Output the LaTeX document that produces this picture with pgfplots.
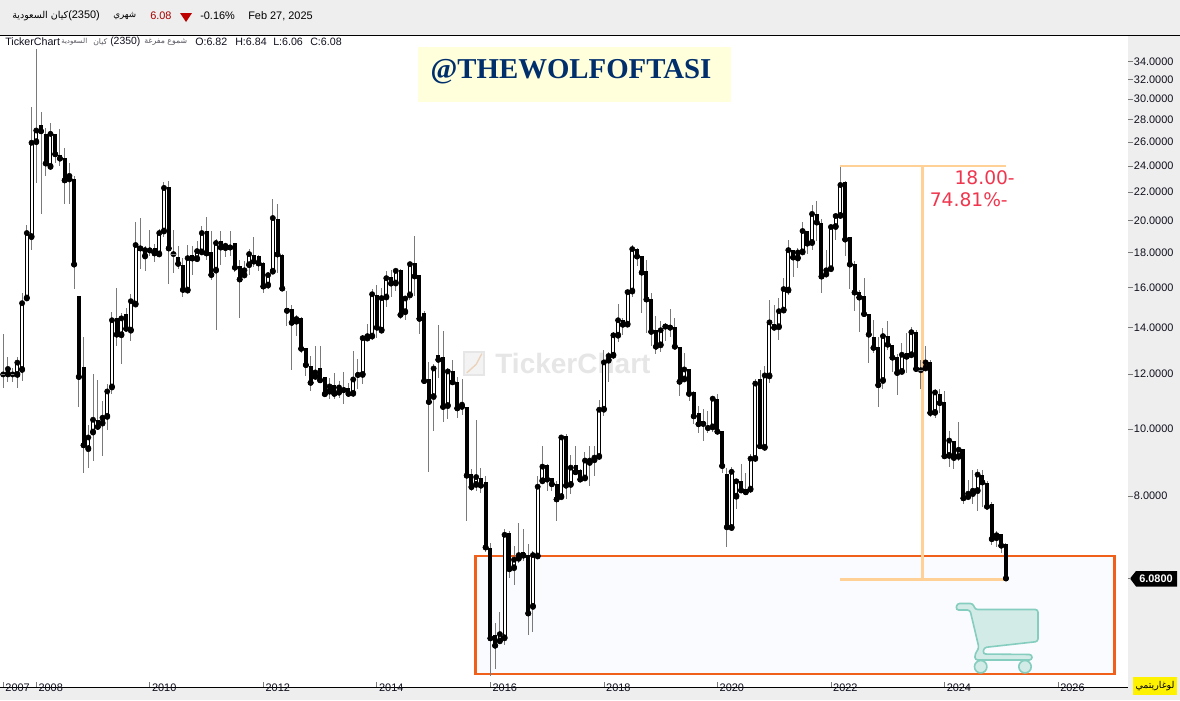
\documentclass[border=0pt]{standalone}
\usepackage{fontspec}
\usepackage{graphicx}
\usepackage{pgfplots}
\usepackage{pgfplotstable}
\pgfplotsset{compat=1.18}
\setmainfont{Liberation Sans}
\newfontfamily\arabicfont[Script=Arabic]{DejaVu Sans}
\newfontfamily\titlefont{Liberation Serif}
\newfontfamily\redfont{DejaVu Sans}
\TeXXeTstate=1

\definecolor{panel}{HTML}{EEEEEE}
\definecolor{wick}{HTML}{7A7A7A}
\definecolor{boxline}{HTML}{F0601A}
\definecolor{boxfill}{HTML}{FAFBFE}
\definecolor{fibline}{HTML}{FFD196}
\definecolor{redtxt}{HTML}{F0364E}
\definecolor{navy}{HTML}{002F6C}
\definecolor{banner}{HTML}{FFFFDC}
\definecolor{carts}{HTML}{84CDBF}
\definecolor{cartf}{HTML}{D2EBE6}
\definecolor{wmark}{HTML}{E6E6E6}
\definecolor{labeltxt}{HTML}{10101E}

% x = months after Jan 2008
\pgfplotstableread{
x o h l c
-6 11.99 12.72 11.68 12.21
-4 11.97 12.72 11.46 12.47
-3 12.17 15.72 11.72 15.20
-2 15.44 19.74 15.44 19.20
-1 18.94 29.20 18.16 25.93
0 25.98 35.39 22.70 27.01
3 23.93 27.65 23.66 26.71
7 22.95 24.20 21.17 23.22
11 9.35 10.12 8.78 9.72
12 9.88 11.99 8.99 10.31
14 10.18 10.96 9.14 10.38
15 10.41 11.63 9.96 11.33
16 11.48 14.76 11.25 14.36
18 13.66 14.70 12.42 14.45
20 13.87 15.68 13.40 15.30
21 15.13 19.94 15.13 18.45
23 17.76 18.36 16.94 18.14
26 17.88 19.45 17.88 19.20
27 19.30 22.78 18.94 22.31
32 15.85 18.45 15.85 17.66
34 17.60 18.67 17.46 18.08
35 18.00 19.63 18.00 19.20
38 16.94 18.81 13.91 18.57
40 18.26 18.57 17.70 18.40
44 16.67 17.50 16.62 16.96
45 17.25 18.20 16.70 17.90
49 16.12 16.83 15.94 16.69
50 16.88 21.52 16.88 20.18
55 14.29 14.61 13.63 14.42
59 11.89 13.18 11.76 12.07
62 11.32 11.85 11.05 11.52
64 11.28 11.72 11.09 11.48
67 11.24 12.96 11.16 11.79
69 11.97 13.67 11.61 13.53
70 13.51 14.18 13.51 13.62
71 13.60 15.93 13.45 15.66
73 13.87 15.98 13.82 15.46
74 15.49 16.93 15.03 16.52
76 16.23 16.98 15.85 16.93
78 14.75 15.44 14.38 15.44
79 15.60 17.46 15.37 17.31
84 11.12 12.41 9.94 12.23
87 10.79 12.23 10.32 12.11
90 10.76 11.80 10.49 10.84
93 8.30 10.29 8.13 8.52
98 4.93 5.44 4.90 5.05
99 4.98 7.17 4.87 7.03
101 6.29 6.78 5.94 6.47
102 6.49 7.31 6.40 6.57
105 5.53 6.67 5.09 6.57
106 6.54 8.56 6.49 8.25
107 8.40 9.44 8.37 8.82
111 7.97 9.72 7.91 9.72
113 8.30 9.16 8.04 8.79
116 8.48 9.25 8.48 9.00
117 8.93 9.44 8.28 9.00
118 9.01 9.46 8.56 9.09
119 9.11 11.00 9.01 10.66
120 10.66 13.00 10.45 12.48
121 12.55 12.93 11.70 12.75
122 12.76 13.80 12.61 13.66
123 13.64 15.17 13.37 14.36
125 14.15 15.77 14.10 15.77
126 15.80 18.47 15.51 18.20
132 13.21 14.34 12.91 13.89
137 11.79 12.86 11.70 12.19
143 10.05 11.16 9.91 11.06
147 7.19 8.81 7.17 8.67
148 7.98 8.42 7.66 8.40
151 8.17 9.21 8.07 9.06
152 9.05 11.82 9.05 11.63
154 9.39 12.33 9.39 11.95
155 11.91 15.37 11.66 14.26
157 14.03 15.46 13.45 14.80
158 14.83 16.52 14.81 15.93
159 15.85 18.77 15.63 18.14
161 17.64 18.26 17.11 18.00
162 18.00 19.94 18.00 19.33
164 18.57 21.10 18.16 20.46
167 16.72 18.16 16.72 16.96
168 17.02 19.74 17.02 19.59
169 19.59 20.41 18.77 20.32
170 20.32 24.02 20.32 22.53
179 11.73 13.99 11.43 13.62
183 12.09 13.33 12.03 12.80
185 12.78 14.03 12.78 13.80
188 12.23 13.18 12.23 12.48
190 10.55 11.42 10.37 11.29
193 9.14 9.93 8.80 9.62
195 9.11 10.22 8.99 9.33
197 7.97 8.45 7.97 8.06
198 8.05 8.71 7.80 8.14
199 8.13 8.74 7.60 8.59
203 6.95 7.13 6.76 7.02
}\upcandles

\pgfplotstableread{
x o h l c
1 27.47 28.71 20.48 26.95
2 26.74 27.28 23.19 24.20
4 26.74 26.74 24.28 24.96
5 24.93 27.19 23.98 24.60
6 24.66 25.44 21.17 22.88
8 23.01 23.19 15.96 17.29
9 15.58 15.58 10.76 11.89
10 12.29 13.57 8.63 9.47
13 10.31 11.76 10.02 10.07
17 14.45 16.00 13.19 13.69
19 14.66 14.96 13.96 13.96
22 18.32 20.21 17.04 18.24
24 18.20 19.41 17.76 18.12
25 18.26 18.54 17.46 17.94
28 22.38 22.86 16.18 18.24
30 17.72 18.40 17.02 17.33
31 17.25 17.66 15.49 15.89
33 17.84 18.40 16.67 17.64
36 19.35 20.25 17.56 17.94
37 18.02 19.30 16.43 16.70
39 18.69 19.30 17.27 18.30
41 18.38 19.30 17.80 18.30
42 18.57 18.57 16.85 17.11
43 17.19 17.56 14.48 16.45
46 17.86 18.95 17.17 17.46
47 17.80 17.86 16.93 17.35
48 17.37 17.46 15.75 16.07
51 20.14 21.17 16.83 17.88
52 17.86 17.92 15.96 15.96
53 14.96 15.85 14.09 14.82
54 14.91 15.11 12.16 14.24
56 14.47 14.53 12.88 13.06
57 13.09 13.09 11.93 12.37
58 12.33 12.75 11.34 11.66
60 12.24 13.18 11.76 11.76
61 11.87 11.87 11.23 11.23
63 11.57 12.03 11.05 11.24
65 11.46 12.07 10.86 11.38
66 11.46 11.66 11.13 11.24
68 12.04 12.61 11.42 11.97
72 15.63 16.16 13.55 14.01
75 16.58 16.98 15.49 16.23
77 16.96 17.02 14.43 14.62
80 17.39 19.03 15.58 16.62
81 16.70 16.70 13.72 14.43
82 14.71 14.82 11.61 11.73
83 11.80 12.48 8.67 10.94
85 12.79 14.13 11.85 12.59
86 12.71 13.85 10.23 10.76
88 12.12 12.58 11.68 11.68
89 11.68 11.87 10.37 10.71
91 10.75 10.75 7.37 8.56
92 8.61 8.74 8.13 8.24
94 8.48 8.77 8.08 8.28
95 8.39 8.54 6.63 6.74
96 6.73 6.85 4.39 4.98
97 5.04 5.24 4.49 4.86
100 7.08 7.13 6.08 6.27
103 6.64 7.17 6.45 6.56
104 6.57 6.82 5.03 5.41
108 8.88 8.91 8.12 8.45
109 8.48 8.48 8.12 8.32
110 8.33 8.42 7.37 7.91
112 9.78 9.82 7.91 8.28
114 8.88 9.44 8.66 8.66
115 8.71 8.76 8.45 8.45
124 14.36 14.45 13.67 14.15
127 18.22 18.26 17.21 17.76
128 17.80 17.80 14.70 16.83
129 16.93 17.56 13.78 15.39
130 15.42 15.72 13.18 13.82
131 13.90 14.57 12.84 13.15
133 14.12 14.21 13.40 14.06
134 14.12 14.91 13.60 14.01
135 14.04 14.45 13.15 13.15
136 13.12 13.12 11.16 11.70
138 12.20 12.20 10.96 11.24
139 11.31 11.34 10.16 10.43
140 10.56 10.78 9.87 10.16
141 10.26 10.68 9.61 10.17
142 10.09 10.60 9.85 10.03
144 11.06 11.25 9.91 9.91
145 9.93 9.93 8.63 8.84
146 8.62 8.79 6.74 7.21
149 8.42 8.89 8.15 8.15
150 8.18 8.63 8.07 8.10
153 11.80 12.16 9.42 9.44
156 14.18 15.11 13.90 14.01
160 18.14 18.16 16.61 17.70
163 19.33 19.33 17.92 18.54
165 20.46 21.36 18.67 19.89
166 19.85 20.12 15.75 16.61
171 22.75 22.85 17.76 18.79
172 18.94 18.94 15.94 17.29
173 17.31 17.50 14.83 15.75
174 15.77 15.89 13.82 15.49
175 15.56 16.52 14.66 14.66
176 14.65 14.65 12.47 13.69
177 13.57 14.37 12.86 13.10
178 13.12 13.60 10.76 11.57
180 13.62 14.32 13.00 13.24
181 13.21 13.21 12.08 12.68
182 12.69 12.83 11.19 12.05
184 12.87 13.75 12.03 12.72
186 13.81 13.90 12.08 12.21
189 12.50 12.58 10.39 10.55
191 11.23 11.42 10.55 10.90
192 10.93 11.34 9.10 9.13
194 9.62 9.62 8.75 9.08
196 9.34 9.34 7.80 7.94
200 8.59 8.71 7.72 8.37
201 8.34 8.42 7.72 7.72
202 7.78 7.85 6.79 6.93
204 7.06 7.06 6.61 6.78
205 6.82 6.84 6.06 6.08
}\downcandles

\pgfplotstableread{
x o h l c
-7 11.99 13.72 11.46 11.99
-5 11.99 12.24 11.68 11.99
29 17.90 19.41 16.83 17.90
187 12.16 12.58 11.43 12.16
}\dojis

\begin{document}
\begin{tikzpicture}[x=0.75pt,y=-0.75pt]
\useasboundingbox (0,0) rectangle (1180,700);
% window panels
\fill[white] (0,0) rectangle (1180,700);
\fill[panel] (0,0) rectangle (1180,35);
\fill[panel] (1128,35) rectangle (1180,700);
\fill[panel] (0,687) rectangle (1180,700);
\draw[black,line width=0.9pt] (0,35.5) -- (1180,35.5);

\begin{axis}[
  at={(0pt,-27pt)}, anchor=north west,
  scale only axis,
  width=846pt, height=488.6pt,
  ymode=log,
  xmin=-7.67, xmax=230.8,
  ymin=4.228, ymax=37.0,
  axis x line*=bottom, axis y line*=right,
  x axis line style={black,-,line width=0.9pt},
  y axis line style={draw=none},
  xtick={-7,0,24,48,72,96,120,144,168,192,216},
  xticklabels={2007,2008,2010,2012,2014,2016,2018,2020,2022,2024,2026},
  ytick={8,10,12,14,16,18,20,22,24,26,28,30,32,34},
  yticklabels={8.0000,10.0000,12.0000,14.0000,16.0000,18.0000,20.0000,22.0000,24.0000,26.0000,28.0000,30.0000,32.0000,34.0000},
  minor tick num=0, log basis y=10,
  ymajorgrids=false, xmajorgrids=false,
  yminorticks=false,
  xtick align=inside, ytick align=outside,
  major tick length=3.75pt,
  tick style={wick,line width=0.6pt},
  xticklabel style={font=\fontsize{8.2}{9}\selectfont,text=labeltxt,anchor=north west,inner sep=0pt,xshift=1.5pt,yshift=3pt},
  yticklabel style={font=\fontsize{8.2}{9}\selectfont,text=labeltxt,anchor=west,inner sep=0pt,xshift=0.5pt},
]
% buying zone
\draw[boxline,line width=2pt,fill=boxfill] (axis cs:92.9,6.55) rectangle (axis cs:228,4.42);
% watermark
\fill[wmark!50] (axis cs:90.5,12.9) rectangle (axis cs:94.6,11.95);
\draw[wmark,line width=1.5pt] (axis cs:90.5,12.9) rectangle (axis cs:94.6,11.95);
\draw[wmark!80!orange,line width=1pt] (axis cs:91,12.05) -- (axis cs:93,12.4) -- (axis cs:94.2,12.85);
\node[anchor=west,inner sep=0pt,text=wmark,font=\fontsize{21}{22}\selectfont\bfseries] at (axis cs:97,12.45) {TickerChart};

% wicks
\addplot[only marks,mark=none,forget plot,error bars/.cd,y dir=both,y explicit,error mark=none,
  error bar style={wick,line width=0.75pt}]
  table[x=x,y=c,y error plus expr=\thisrow{h}-\thisrow{c},y error minus expr=\thisrow{c}-\thisrow{l}] {\upcandles};
\addplot[only marks,mark=none,forget plot,error bars/.cd,y dir=both,y explicit,error mark=none,
  error bar style={wick,line width=0.75pt}]
  table[x=x,y=c,y error plus expr=\thisrow{h}-\thisrow{c},y error minus expr=\thisrow{c}-\thisrow{l}] {\downcandles};
\addplot[only marks,mark=none,forget plot,error bars/.cd,y dir=both,y explicit,error mark=none,
  error bar style={wick,line width=0.75pt}]
  table[x=x,y=c,y error plus expr=\thisrow{h}-\thisrow{c},y error minus expr=\thisrow{c}-\thisrow{l}] {\dojis};
\addplot[only marks,mark=-,mark size=2pt,mark options={wick,line width=0.75pt},forget plot]
  table[x=x,y=c] {\dojis};
% falling bodies
\addplot[only marks,mark=none,forget plot,error bars/.cd,y dir=plus,y explicit,error mark=none,
  error bar style={black,line width=3pt}]
  table[x=x,y=c,y error plus expr=\thisrow{o}-\thisrow{c}] {\downcandles};
% rising bodies, black then white inside
\addplot[only marks,mark=none,forget plot,error bars/.cd,y dir=plus,y explicit,error mark=none,
  error bar style={black,line width=3pt}]
  table[x=x,y=o,y error plus expr=\thisrow{c}-\thisrow{o}] {\upcandles};
\addplot[only marks,mark=none,forget plot,error bars/.cd,y dir=plus,y explicit,error mark=none,
  error bar style={white,line width=1.5pt}]
  table[x=x,y expr=\thisrow{o}*1.0033,y error plus expr=\thisrow{c}*0.9967-\thisrow{o}*1.0033] {\upcandles};

% range tool
\draw[fibline,line width=1.8pt] (axis cs:169.9,24.02) -- (axis cs:205,24.02);
\draw[fibline,line width=1.8pt] (axis cs:169.9,6.06) -- (axis cs:205,6.06);
\draw[fibline,line width=2pt] (axis cs:187.4,24.02) -- (axis cs:187.4,6.06);
\end{axis}

% last price tag
\fill[black] (1130,578.5) -- (1136,571) -- (1177,571) -- (1177,586.5) -- (1136,586.5) -- cycle;
\draw[wick,line width=0.6pt] (1128,578.5) -- (1131,578.5);
\node[text=white,inner sep=0pt,font=\fontsize{8.2}{9}\selectfont\bfseries] at (1156,578.5) {6.0800};
% log button
\fill[yellow] (1133,677) rectangle (1177,695);
\node[inner sep=0pt] at (1155,686) {\resizebox{29.25pt}{!}{\arabicfont\beginR لوغاريتمي\endR}};

% header strip
\node[anchor=west,inner sep=0pt] at (12,16) {\resizebox{42pt}{!}{\arabicfont\beginR كيان السعودية\endR}};
\node[anchor=west,inner sep=0pt,font=\fontsize{8.2}{9}\selectfont] at (68,16) {(2350)};
\node[anchor=west,inner sep=0pt] at (113,16) {\resizebox{17.25pt}{!}{\arabicfont\beginR شهري\endR}};
\node[anchor=west,inner sep=0pt,text=red!65!black,font=\fontsize{8.2}{9}\selectfont] at (150,16) {6.08};
\fill[red!75!black] (180,13) -- (192,13) -- (186,22) -- cycle;
\node[anchor=west,inner sep=0pt,font=\fontsize{8.2}{9}\selectfont] at (200,16) {-0.16\%};
\node[anchor=west,inner sep=0pt,font=\fontsize{8.2}{9}\selectfont] at (248,16) {Feb 27, 2025};

% info line
\node[anchor=west,inner sep=0pt,text=labeltxt,font=\fontsize{8}{9}\selectfont] at (5,42) {TickerChart};
\node[anchor=west,inner sep=0pt] at (61,42) {\resizebox{19.5pt}{!}{\arabicfont\color{labeltxt!70}\beginR السعودية\endR}};
\node[anchor=west,inner sep=0pt] at (93,42) {\resizebox{10.5pt}{!}{\arabicfont\color{labeltxt!70}\beginR كيان\endR}};
\node[anchor=west,inner sep=0pt,text=labeltxt,font=\fontsize{7.8}{9}\selectfont] at (110,42) {(2350)};
\node[anchor=west,inner sep=0pt] at (144,42) {\resizebox{32.25pt}{!}{\arabicfont\color{labeltxt!70}\beginR شموع مفرغة\endR}};
\node[anchor=west,inner sep=0pt,text=labeltxt,font=\fontsize{8}{9}\selectfont] at (195,42) {O:6.82};
\node[anchor=west,inner sep=0pt,text=labeltxt,font=\fontsize{8}{9}\selectfont] at (235,42) {H:6.84};
\node[anchor=west,inner sep=0pt,text=labeltxt,font=\fontsize{8}{9}\selectfont] at (273,42) {L:6.06};
\node[anchor=west,inner sep=0pt,text=labeltxt,font=\fontsize{8}{9}\selectfont] at (310,42) {C:6.08};

% banner
\fill[banner] (418,47) rectangle (731,101.5);
\node[anchor=center,inner sep=0pt,text=navy,font=\fontsize{21.6}{24}\titlefont\bfseries] at (571,72) {@THEWOLFOFTASI};

% drop labels
\node[anchor=east,inner sep=0pt,text=redtxt,font=\fontsize{14}{16}\redfont] at (1015,178) {18.00-};
\node[anchor=east,inner sep=0pt,text=redtxt,font=\fontsize{14}{16}\redfont] at (1008,200) {74.81\%-};

% cart
\draw[carts,line width=1.2pt,fill=cartf,rounded corners=2pt]
  (957,603.5) -- (973,603.5) -- (975,609.5) -- (1038,609.5) -- (1038,641.5) -- (984,647.5) -- (983,654)
  -- (1032,654.5) -- (1032,660) -- (975,660) -- (975,654) -- (979,648) -- (970,610) -- (956,610) -- cycle;
\draw[carts,line width=1.2pt,fill=cartf] (980.7,666.7) circle (6.2);
\draw[carts,line width=1.2pt,fill=cartf] (1025,666.7) circle (6.2);
\end{tikzpicture}
\end{document}
